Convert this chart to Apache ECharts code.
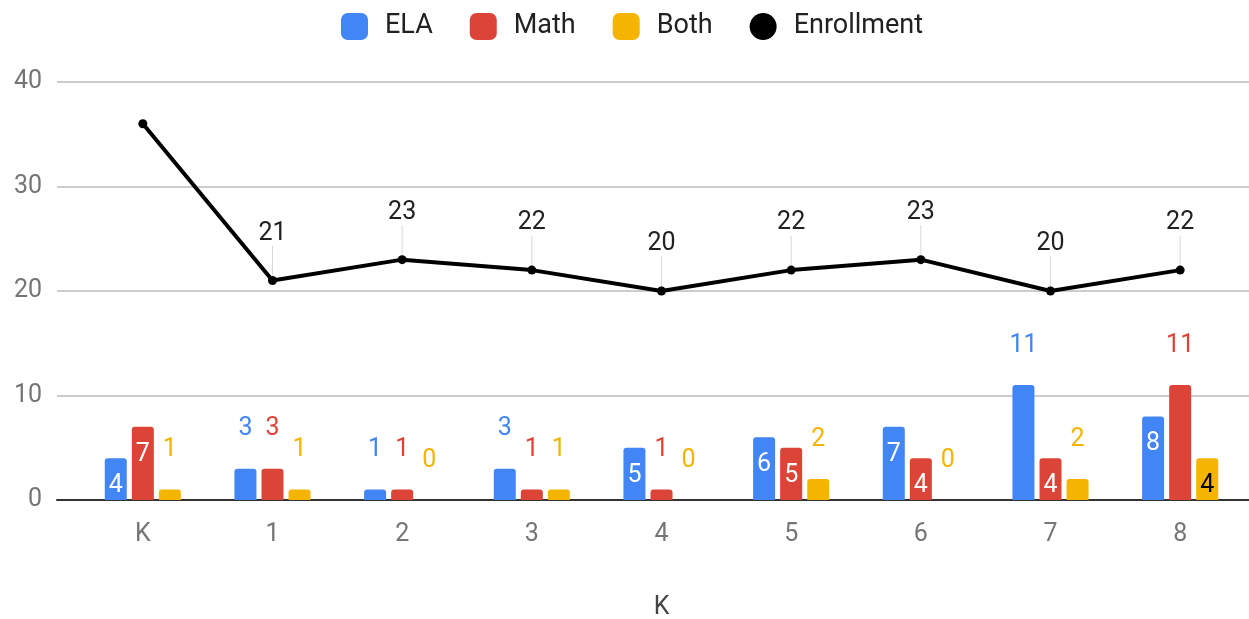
<!DOCTYPE html>
<html>
<head>
<meta charset="utf-8">
<script src="https://cdn.jsdelivr.net/npm/echarts@6/dist/echarts.min.js"></script>
<style>
html,body{margin:0;padding:0;background:#fff;}
#c{width:1249px;height:619px;}
</style>
</head>
<body>
<div id="c"></div>
<script>
const categories = ['K', '1', '2', '3', '4', '5', '6', '7', '8'];
const ela = [4, 3, 1, 3, 5, 6, 7, 11, 8];
const math = [7, 3, 1, 1, 1, 5, 4, 4, 11];
const both = [1, 1, 0, 1, 0, 2, 0, 2, 4];
const enrollment = [36, 21, 23, 22, 20, 22, 23, 20, 22];
const yTicks = [0, 10, 20, 30, 40];

const FONT = 'Roboto';
const FS = 25;
const colors = { ELA: '#4285F4', Math: '#DB4437', Both: '#F4B400' };

function barData(vals, color, insideColor) {
  return vals.map(v => {
    const inside = v >= 4 && v <= 10;
    return {
      value: v,
      label: inside
        ? { position: 'insideTop', distance: 15, color: insideColor }
        : { position: 'top', distance: 27, color: color }
    };
  });
}

function barSeries(name, vals, insideColor) {
  return {
    name: name,
    type: 'bar',
    xAxisIndex: 0, yAxisIndex: 0,
    barWidth: 22,
    barGap: '23%',
    itemStyle: { color: colors[name], borderRadius: [3, 3, 0, 0] },
    label: { show: true, fontFamily: FONT, fontSize: FS },
    data: barData(vals, colors[name], insideColor),
    z: 2
  };
}

const chart = echarts.init(document.getElementById('c'), null, { renderer: 'canvas' });
chart.setOption({
  animation: false,
  textStyle: { fontFamily: FONT },
  legend: {
    top: 8,
    left: 336,
    itemWidth: 27,
    itemHeight: 27,
    itemGap: 37,
    textStyle: { fontFamily: FONT, fontSize: 27, color: '#212121', padding: [0, 0, 0, 12] },
    data: [
      { name: 'ELA', icon: 'roundRect' },
      { name: 'Math', icon: 'roundRect' },
      { name: 'Both', icon: 'roundRect' },
      { name: 'Enrollment', icon: 'circle' }
    ]
  },
  grid: [
    { left: 78, right: 4, top: 82, bottom: 119, outerBoundsMode: 'none', containLabel: false },
    { left: 57, right: 0, top: 82, bottom: 119, outerBoundsMode: 'none', containLabel: false }
  ],
  xAxis: [
    {
      type: 'category', gridIndex: 0, data: categories,
      axisLine: { show: false }, axisTick: { show: false },
      axisLabel: { color: '#757575', fontSize: FS, fontFamily: FONT, margin: 22 },
      name: 'K', nameLocation: 'middle', nameGap: 95,
      nameTextStyle: { color: '#444', fontSize: FS, fontFamily: FONT }
    },
    {
      type: 'value', gridIndex: 1, min: 0, max: 1,
      axisLine: { show: true, lineStyle: { color: '#333', width: 2 } },
      axisTick: { show: false }, axisLabel: { show: false }, splitLine: { show: false }
    }
  ],
  yAxis: [
    {
      type: 'value', gridIndex: 0, min: yTicks[0], max: yTicks[yTicks.length - 1], interval: 10,
      axisLine: { show: false }, axisTick: { show: false }, axisLabel: { show: false },
      splitLine: { show: false }
    },
    {
      type: 'value', gridIndex: 1, min: yTicks[0], max: yTicks[yTicks.length - 1], interval: 10,
      axisLine: { show: false }, axisTick: { show: false },
      axisLabel: { color: '#757575', fontSize: FS, fontFamily: FONT, margin: 15 },
      splitLine: { show: true, lineStyle: { color: '#cccccc', width: 2 } }
    }
  ],
  series: [
    barSeries('ELA', ela, '#ffffff'),
    barSeries('Math', math, '#ffffff'),
    barSeries('Both', both, '#000000'),
    {
      name: 'Enrollment',
      type: 'line',
      xAxisIndex: 0, yAxisIndex: 0,
      color: '#000',
      symbol: 'circle',
      symbolSize: 9,
      lineStyle: { color: '#000', width: 4 },
      itemStyle: { color: '#000' },
      label: { show: true, position: 'top', distance: 4, color: '#212121', fontSize: FS, fontFamily: FONT },
      labelLayout: { dy: -26 },
      labelLine: { show: true, lineStyle: { color: '#d6d6d6', width: 1 } },
      data: enrollment.map((v, i) => i === 0 ? { value: v, label: { show: false } } : v),
      z: 5
    }
  ]
});
</script>
</body>
</html>
